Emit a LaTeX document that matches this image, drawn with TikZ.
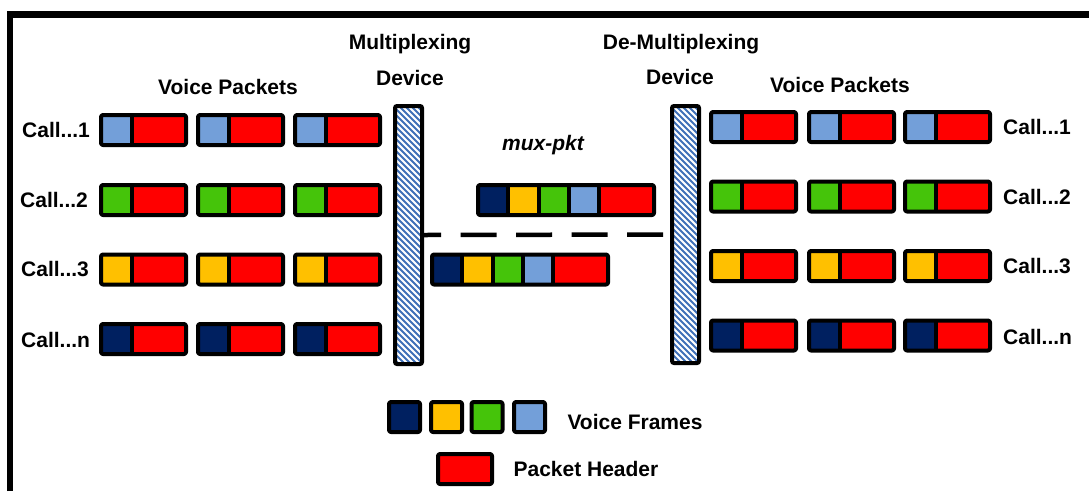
\documentclass[tikz,border=0pt]{standalone}
\usepackage{fontspec}
\setmainfont{Liberation Sans}
\definecolor{navy}{HTML}{002060}
\definecolor{fyellow}{HTML}{FFC000}
\definecolor{fgreen}{HTML}{45C40A}
\definecolor{lblue}{HTML}{739FD9}
\definecolor{hred}{HTML}{FF0000}
\definecolor{stripeblue}{HTML}{3F70B8}
\tikzset{
  pkline/.style={draw=black, line width=4pt, rounded corners=2pt, line join=round},
  lbl/.style={font=\bfseries\fontsize{21}{25}\selectfont, inner sep=0pt},
  stripe/.style={draw=stripeblue, line width=2.1pt},
  devbox/.style={draw=black, line width=4pt, rounded corners=2pt, inner sep=0pt, minimum width=27pt},
  dashln/.style={draw=black, line width=4.5pt, dash pattern=on 36pt off 19.5pt, dash phase=19pt},
  pics/pkt/.style={code={
    \fill[#1] (0,-15) rectangle (31,15);
    \fill[hred] (31,-15) rectangle (85,15);
    \draw[pkline] (0,-15) rectangle (85,15);
    \draw[pkline] (31,-15) -- (31,15);
  }},
  pics/muxpkt/.style={code={
    \fill[navy] (0,-15) rectangle (30.3,15);
    \fill[fyellow] (30.3,-15) rectangle (60.6,15);
    \fill[fgreen] (60.6,-15) rectangle (90.9,15);
    \fill[lblue] (90.9,-15) rectangle (121.2,15);
    \fill[hred] (121.2,-15) rectangle (176,15);
    \draw[pkline] (0,-15) rectangle (176,15);
    \foreach \d in {30.3,60.6,90.9,121.2} \draw[pkline] (\d,-15) -- (\d,15);
  }},
  pics/cell/.style={code={
    \draw[pkline, fill=#1] (0,-15) rectangle (31,15);
  }},
}
\begin{document}
\begin{tikzpicture}[x=1pt,y=-1pt]
\useasboundingbox (0,0) rectangle (1089,491);
\fill[white] (0,0) rectangle (1089,491);
% outer frame (cropped)
\draw[line width=6.5pt, line join=miter] (10,491) -- (10,14.5) -- (1089,14.5);

% titles
\node[lbl] (vpl) at (228,87) {Voice Packets};
\node[lbl] (vpr) at (840,85) {Voice Packets};
\node[lbl] (muxt1) at (410,44) {Multiplexing};
\node[lbl] (muxt2) at (410,78) {Device};
\node[lbl] (dmxt1) at (681,44) {De-Multiplexing};
\node[lbl] (dmxt2) at (680,77) {Device};
\node[lbl, font=\bfseries\itshape\fontsize{21}{25}\selectfont] (mpk) at (543,145) {mux-pkt};

% call labels
\node[lbl, anchor=west] (cl1) at (22,130) {Call...1};
\node[lbl, anchor=west] (cl2) at (20,200) {Call...2};
\node[lbl, anchor=west] (cl3) at (21,269.5) {Call...3};
\node[lbl, anchor=west] (cln) at (21,340) {Call...n};
\node[lbl, anchor=west] (cr1) at (1003,127) {Call...1};
\node[lbl, anchor=west] (cr2) at (1003,196.5) {Call...2};
\node[lbl, anchor=west] (cr3) at (1003,266) {Call...3};
\node[lbl, anchor=west] (crn) at (1003,336.5) {Call...n};

% left packets
\foreach \x in {101,198,295}{
  \pic at (\x,130) {pkt=lblue};
  \pic at (\x,200) {pkt=fgreen};
  \pic at (\x,269.5) {pkt=fyellow};
  \pic at (\x,339) {pkt=navy};
}
% right packets
\foreach \x in {711,809,905}{
  \pic at (\x,127) {pkt=lblue};
  \pic at (\x,196.5) {pkt=fgreen};
  \pic at (\x,266) {pkt=fyellow};
  \pic at (\x,335.5) {pkt=navy};
}

% devices: stripes
\begin{scope}
  \clip (395,106) rectangle (422,364);
  \fill[white] (395,106) rectangle (422,364);
  \foreach \k in {-36,-30,...,264} \draw[stripe] (393,{106+\k}) -- ++(34,34);
\end{scope}
\begin{scope}
  \clip (672,106) rectangle (699,363);
  \fill[white] (672,106) rectangle (699,363);
  \foreach \k in {-36,-30,...,264} \draw[stripe] (670,{106+\k}) -- ++(34,34);
\end{scope}
\node[devbox, minimum height=258pt] (mux) at (408.5,235) {};
\node[devbox, minimum height=257pt] (demux) at (685.5,234.5) {};

% connector
\draw[dashln] (mux.east) -- (demux.west);

% multiplexed packets
\pic at (478,200) {muxpkt};
\pic at (432,269.5) {muxpkt};

% legend
\pic at (389,417) {cell=navy};
\pic at (431,417) {cell=fyellow};
\pic at (471.5,417) {cell=fgreen};
\pic at (514,417) {cell=lblue};
\draw[pkline, fill=hred] (438,454) rectangle (492,484);
\node[lbl] (lvf) at (635,422) {Voice Frames};
\node[lbl] (lph) at (586,469) {Packet Header};
\end{tikzpicture}
\end{document}
